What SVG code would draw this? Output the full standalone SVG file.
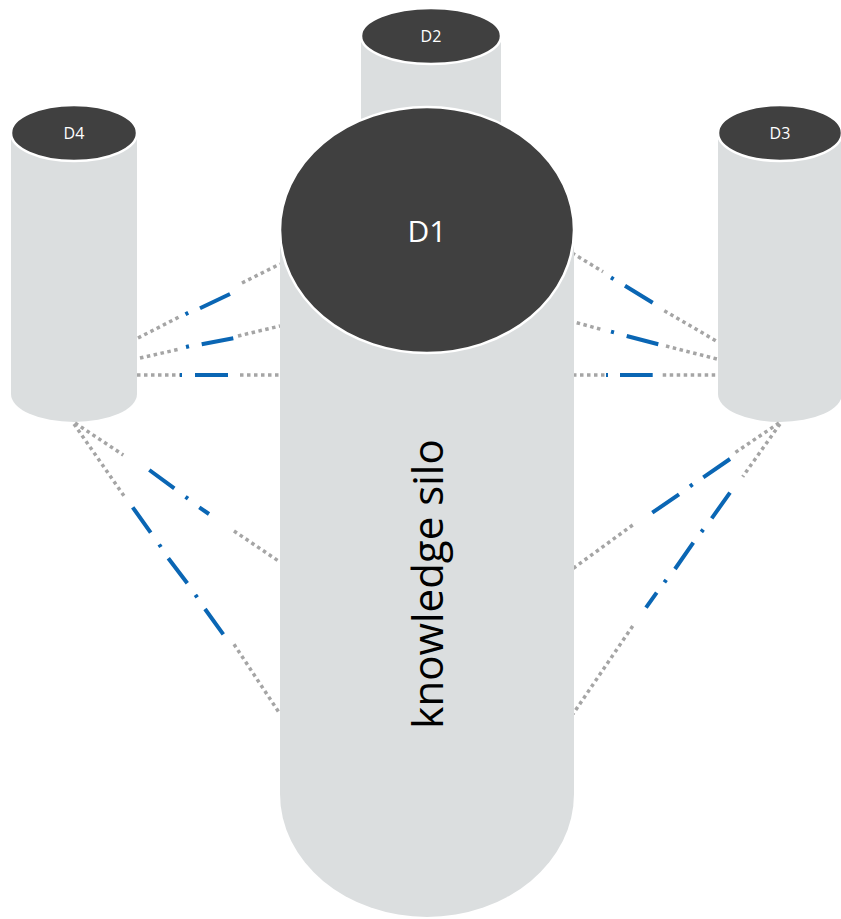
<svg xmlns="http://www.w3.org/2000/svg" width="841" height="919" viewBox="0 0 841 919">
<style>
.body{fill:#DBDEDF}
.top{fill:#404040;stroke:#FFFFFF;stroke-width:2.5}
.lbl{fill:#FFFFFF;font-family:"Open Sans","Noto Sans",sans-serif;text-anchor:middle}
.dot{fill:none;stroke:#A5A5A5;stroke-width:3.5;stroke-dasharray:3.5 3.5}
.blue{fill:none;stroke:#0A66B4;stroke-width:4}
</style>
<rect width="841" height="919" fill="#FFFFFF"/>
<g id="D2">
<path class="body" d="M361,36 H501 V260 H361 Z"/>
<ellipse class="top" cx="431" cy="36" rx="70" ry="28"/>
<text class="lbl" x="431" y="42" font-size="16">D2</text>
</g>
<g id="D4">
<path class="body" d="M11,133 H137 V394 A63,28 0 0 1 11,394 Z"/>
<ellipse class="top" cx="74" cy="133" rx="63" ry="28"/>
<text class="lbl" x="74" y="139" font-size="16">D4</text>
</g>
<g id="D3">
<path class="body" d="M718,133 H842 V394 A62,28 0 0 1 718,394 Z"/>
<ellipse class="top" cx="780" cy="133" rx="62" ry="28"/>
<text class="lbl" x="780" y="139" font-size="16">D3</text>
</g>
<g id="connectors">
<path class="dot" d="M138,338 L181,316 M242,283 L280,264"/>
<path class="blue" d="M185.5,314.2 L188.2,312.8 M200,308.3 L230,294"/>
<path class="dot" d="M140,358 L180,349 M238,336 L280,326"/>
<path class="blue" d="M186,347 L189,346.3 M201.7,344.3 L233.3,338.3"/>
<path class="dot" d="M137,375 L180,375 M240,375 L280,375"/>
<path class="blue" d="M180,375 L182,375 M195,375 L228,375"/>
<path class="dot" d="M572,253 L603,271.7 M664.3,310.7 L718,342"/>
<path class="blue" d="M611,277.5 L613.6,279.1 M625,285.7 L652.7,302.7"/>
<path class="dot" d="M576.7,322.7 L603.3,330 M666,346 L718,359.3"/>
<path class="blue" d="M611,331.6 L614,332.4 M626.7,336 L658.3,344.3"/>
<path class="dot" d="M573,375 L606,375 M662.7,375 L718,375"/>
<path class="blue" d="M606,375 L608,375 M620,375 L652.7,375"/>
<path class="dot" d="M75,423 L123.3,455 M234,531 L280,562"/>
<path class="blue" d="M149.3,470 L174.3,488.3 M185.5,496.8 L188,498.6 M199.3,507.3 L209,514"/>
<path class="dot" d="M74,424 L124,496 M234,644.3 L280,714"/>
<path class="blue" d="M132.7,507.3 L150.7,532.7 M159.2,544.5 L160.9,547 M168.3,558.3 L187.3,583.3 M195.4,594.8 L197.2,597.3 M205,609 L223.3,634.3"/>
<path class="dot" d="M779,423 L735,452.7 M632.7,525 L573,568.5"/>
<path class="blue" d="M730,459 L703.3,477.3 M692.6,484.4 L690,486.3 M679,494.3 L652.3,512.7"/>
<path class="dot" d="M780,424 L742.7,476.7 M632.7,626 L573,714"/>
<path class="blue" d="M730,492.7 L711.7,518.3 M703.2,529.5 L701.4,532 M693.3,542.7 L675,569 M666.2,579.8 L664.4,582.3 M656.7,592.7 L646,607.7"/>
</g>
<g id="D1">
<path class="body" d="M280,230 H574 V794 A147,123 0 0 1 280,794 Z"/>
<ellipse class="top" cx="427" cy="230" rx="147" ry="123"/>
<text class="lbl" x="427" y="242" font-size="30">D1</text>
<text x="0" y="0" font-size="42" transform="translate(443,584) rotate(-90)" style="fill:#000000;font-family:'Open Sans','Noto Sans',sans-serif;text-anchor:middle">knowledge silo</text>
</g>
</svg>
